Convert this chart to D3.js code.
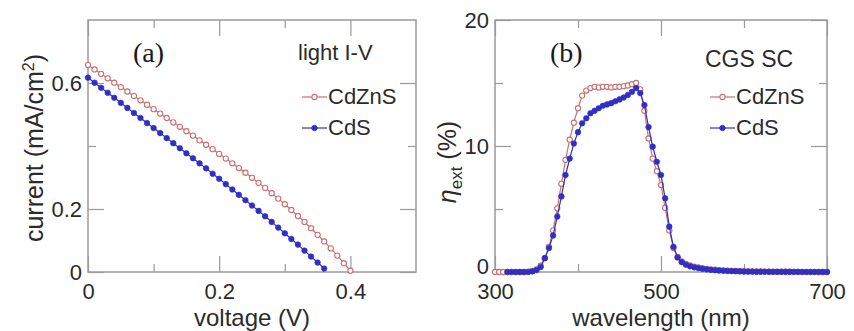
<!DOCTYPE html>
<html>
<head>
<meta charset="utf-8">
<script src="https://cdn.jsdelivr.net/npm/d3@7"></script>
<style>
  body { margin: 0; background: #fff; }
  svg { display: block; font-family: "Liberation Sans", Arial, Helvetica, sans-serif; }
  .tick text { font-size: 22px; fill: #2b2b2b; }
  .tick line { stroke: #9a9a9a; stroke-width: 1.2; }
</style>
</head>
<body>
<svg id="chart" width="854" height="331"></svg>
<script>
// ---- panel (a): light I-V ----
const voltZn = [0.00,0.01,0.02,0.03,0.04,0.05,0.06,0.07,0.08,0.09,
                0.10,0.11,0.12,0.13,0.14,0.15,0.16,0.17,0.18,0.19,
                0.20,0.21,0.22,0.23,0.24,0.25,0.26,0.27,0.28,0.29,
                0.30,0.31,0.32,0.33,0.34,0.35,0.36,0.37,0.38,0.39,0.40];
const currZn = [0.657,0.643,0.629,0.615,0.601,0.587,0.573,0.559,0.545,0.531,
                0.517,0.503,0.489,0.475,0.461,0.447,0.433,0.418,0.404,0.390,
                0.375,0.360,0.345,0.330,0.315,0.299,0.283,0.267,0.250,0.233,
                0.215,0.197,0.178,0.159,0.139,0.118,0.097,0.075,0.052,0.028,0.004];
const voltCd = [0.00,0.01,0.02,0.03,0.04,0.05,0.06,0.07,0.08,0.09,
                0.10,0.11,0.12,0.13,0.14,0.15,0.16,0.17,0.18,0.19,
                0.20,0.21,0.22,0.23,0.24,0.25,0.26,0.27,0.28,0.29,
                0.30,0.31,0.32,0.33,0.34,0.35,0.36];
const currCd = [0.617,0.601,0.585,0.569,0.553,0.537,0.521,0.505,0.489,0.473,
                0.457,0.441,0.425,0.409,0.393,0.377,0.361,0.345,0.329,0.312,
                0.296,0.279,0.262,0.245,0.228,0.211,0.194,0.177,0.159,0.141,
                0.123,0.105,0.087,0.068,0.049,0.030,0.011];

const xMajorA = [0, 0.2, 0.4], xMajorLabelsA = ["0", "0.2", "0.4"], xMinorA = [0.1, 0.3];
const yMajorA = [0, 0.2, 0.6], yMajorLabelsA = ["0", "0.2", "0.6"], yMinorA = [0.4];

// ---- panel (b): external QE ----
const waveZn = [300,305,310,315,320,325,330,335,340,345,
                350,355,360,365,370,375,380,385,390,395,
                400,405,410,415,420,425,430,435,440,445,
                450,455,460,465,470,475,480,485,490,495,
                500,505,510,515,520,525,530,535,540,545,
                550,555,560,565,570,575,580,585,590,595,
                600,605,610,615,620,625,630,635,640,645,
                650,655,660,665,670,675,680,685,690,695,700];
const etaZn = [0,0,0,0,0,0,0,0,0.03,0.08,
               0.2,0.5,1.1,2.0,3.3,5.05,7.0,8.9,10.5,11.85,
               13.0,14.0,14.4,14.6,14.7,14.65,14.7,14.7,14.65,14.7,
               14.7,14.75,14.8,14.9,15.0,14.5,12.8,10.6,9.0,8.0,
               6.9,5.1,3.3,1.9,1.2,0.85,0.65,0.52,0.43,0.36,
               0.3,0.25,0.21,0.18,0.15,0.13,0.11,0.09,0.08,0.07,
               0.06,0.05,0.05,0.04,0.04,0.03,0.03,0.03,0.02,0.02,
               0.02,0.02,0.01,0.01,0.01,0.01,0.01,0.01,0,0,0];
const waveCd = [315,320,325,330,335,340,345,
                350,355,360,365,370,375,380,385,390,395,
                400,405,410,415,420,425,430,435,440,445,
                450,455,460,465,470,475,480,485,490,495,
                500,505,510,515,520,525,530,535,540,545,
                550,555,560,565,570,575,580,585,590,595,
                600,605,610,615,620,625,630,635,640,645,
                650,655,660,665,670,675,680,685,690,695,700];
const etaCd = [0,0,0,0,0,0,0.05,
               0.15,0.4,1.1,1.9,2.9,4.4,6.0,7.7,9.0,10.2,
               11.1,11.8,12.2,12.6,12.8,13.0,13.2,13.3,13.4,13.55,
               13.7,13.85,14.05,14.3,14.6,14.2,13.25,11.5,9.95,8.75,
               7.7,5.85,3.6,2.0,1.15,0.78,0.58,0.46,0.37,0.31,
               0.26,0.21,0.17,0.14,0.12,0.1,0.08,0.07,0.06,0.05,
               0.04,0.03,0.03,0.02,0.02,0.02,0.02,0.01,0.01,0.01,
               0.01,0.01,0.01,0.01,0,0,0,0,0,0,0];

const xMajorB = [300, 500, 700], xMajorLabelsB = ["300", "500", "700"], xMinorB = [400, 600];
const yMajorB = [0, 10, 20], yMajorLabelsB = ["0", "10", "20"], yMinorB = [5, 15];

const seriesNames = ["CdZnS", "CdS"];
const redColor = "#cc6e6e", blueColor = "#2f2fc6";

const svg = d3.select("#chart");

// inward ticks on all four sides, labels only bottom/left
function drawFrame(x, y, t) {
  const [x0, x1] = x.range(), [y0, y1] = y.range();
  const g = svg.append("g");
  const lab = (vals, labels) => d => labels[vals.indexOf(d)];

  const axes = [
    [d3.axisBottom(x).tickValues(t.xMajor).tickSize(-16).tickPadding(11).tickFormat(lab(t.xMajor, t.xLabels)), `translate(0,${y0})`],
    [d3.axisBottom(x).tickValues(t.xMinor).tickSize(-8).tickFormat(""), `translate(0,${y0})`],
    [d3.axisTop(x).tickValues(t.xMajor).tickSize(-16).tickFormat(""), `translate(0,${y1})`],
    [d3.axisTop(x).tickValues(t.xMinor).tickSize(-8).tickFormat(""), `translate(0,${y1})`],
    [d3.axisLeft(y).tickValues(t.yMajor).tickSize(-16).tickPadding(6).tickFormat(lab(t.yMajor, t.yLabels)), `translate(${x0},0)`, true],
    [d3.axisLeft(y).tickValues(t.yMinor).tickSize(-8).tickFormat(""), `translate(${x0},0)`],
    [d3.axisRight(y).tickValues(t.yMajor).tickSize(-16).tickFormat(""), `translate(${x1},0)`],
    [d3.axisRight(y).tickValues(t.yMinor).tickSize(-8).tickFormat(""), `translate(${x1},0)`]
  ];
  axes.forEach(([ax, tr, lift]) => {
    const a = g.append("g").attr("transform", tr).call(ax);
    a.select(".domain").remove();
    if (lift && t.liftZero) {
      // lift the bottom "0" a little so it clears the x labels
      a.selectAll(".tick text").filter(d => d === 0).attr("dy", "0.05em");
    }
  });

  g.append("rect")
    .attr("x", x0).attr("y", y1)
    .attr("width", x1 - x0).attr("height", y0 - y1)
    .attr("fill", "none").attr("stroke", "#9a9a9a").attr("stroke-width", 1.5);
}

function drawSeries(x, y, xs, ys, color, open) {
  const pts = xs.map((d, i) => [d, ys[i]]);
  svg.append("path")
    .datum(pts)
    .attr("fill", "none").attr("stroke", color).attr("stroke-width", 1.2)
    .attr("d", d3.line().x(d => x(d[0])).y(d => y(d[1])));
  svg.append("g").selectAll("circle")
    .data(pts).join("circle")
    .attr("cx", d => x(d[0])).attr("cy", d => y(d[1]))
    .attr("r", open ? 2.6 : 2.8)
    .attr("fill", open ? "#fff" : color)
    .attr("stroke", color).attr("stroke-width", open ? 1.1 : 0.6);
}

function drawLegend(xL, yRows, texts) {
  const colors = [redColor, blueColor];
  texts.forEach((name, i) => {
    const yy = yRows[i];
    svg.append("line")
      .attr("x1", xL).attr("x2", xL + 25).attr("y1", yy).attr("y2", yy)
      .attr("stroke", colors[i]).attr("stroke-width", 1.2);
    svg.append("circle")
      .attr("cx", xL + 12.5).attr("cy", yy).attr("r", i === 0 ? 2.6 : 2.8)
      .attr("fill", i === 0 ? "#fff" : colors[i])
      .attr("stroke", colors[i]).attr("stroke-width", i === 0 ? 1.1 : 0.6);
    svg.append("text")
      .attr("x", xL + 26).attr("y", yy + 7)
      .attr("font-size", 22).attr("fill", "#2b2b2b")
      .text(name);
  });
}

// ---------- panel (a) ----------
const xA = d3.scaleLinear().domain([0, 0.5]).range([88, 416]);
const yA = d3.scaleLinear().domain([0, 0.8]).range([272, 20]);

drawFrame(xA, yA, {xMajor: xMajorA, xLabels: xMajorLabelsA, xMinor: xMinorA,
                   yMajor: yMajorA, yLabels: yMajorLabelsA, yMinor: yMinorA, liftZero: false});
drawSeries(xA, yA, voltZn, currZn, redColor, true);
drawSeries(xA, yA, voltCd, currCd, blueColor, false);

svg.append("text")
  .attr("x", 133).attr("y", 62)
  .attr("font-family", "'Liberation Serif', 'Times New Roman', serif")
  .attr("font-size", 28).attr("fill", "#1a1a1a")
  .text("(a)");
svg.append("text")
  .attr("x", 298).attr("y", 60)
  .attr("font-size", 22).attr("fill", "#2b2b2b")
  .text("light I-V");
drawLegend(302, [97, 128], seriesNames);

svg.append("text")
  .attr("transform", "translate(43,148) rotate(-90)")
  .attr("text-anchor", "middle")
  .attr("font-size", 25).attr("fill", "#2b2b2b")
  .text("current (mA/cm")
  .append("tspan").attr("dy", -9).attr("font-size", 16).text("2")
  .clone(true).attr("dy", 9).attr("font-size", 25).text(")");

svg.append("text")
  .attr("x", 252).attr("y", 326)
  .attr("text-anchor", "middle")
  .attr("font-size", 24).attr("fill", "#2b2b2b")
  .text("voltage (V)");

// ---------- panel (b) ----------
const xB = d3.scaleLinear().domain([300, 700]).range([495, 827]);
const yB = d3.scaleLinear().domain([0, 20]).range([272, 20]);

drawFrame(xB, yB, {xMajor: xMajorB, xLabels: xMajorLabelsB, xMinor: xMinorB,
                   yMajor: yMajorB, yLabels: yMajorLabelsB, yMinor: yMinorB, liftZero: true});
drawSeries(xB, yB, waveZn, etaZn, redColor, true);
drawSeries(xB, yB, waveCd, etaCd, blueColor, false);

svg.append("text")
  .attr("x", 550).attr("y", 62)
  .attr("font-family", "'Liberation Serif', 'Times New Roman', serif")
  .attr("font-size", 28).attr("fill", "#1a1a1a")
  .text("(b)");
svg.append("text")
  .attr("x", 705).attr("y", 67)
  .attr("font-size", 23).attr("fill", "#2b2b2b")
  .text("CGS SC");
drawLegend(710, [97, 128], seriesNames);

const etaLabel = svg.append("text")
  .attr("transform", "translate(456,162) rotate(-90)")
  .attr("text-anchor", "middle")
  .attr("font-size", 25).attr("fill", "#2b2b2b");
etaLabel.append("tspan").attr("font-style", "italic").text("η");
etaLabel.append("tspan").attr("font-size", 17).attr("dy", 6).text("ext");
etaLabel.append("tspan").attr("dy", -6).text(" (%)");

svg.append("text")
  .attr("x", 661).attr("y", 326)
  .attr("text-anchor", "middle")
  .attr("font-size", 24).attr("fill", "#2b2b2b")
  .text("wavelength (nm)");
</script>
</body>
</html>
